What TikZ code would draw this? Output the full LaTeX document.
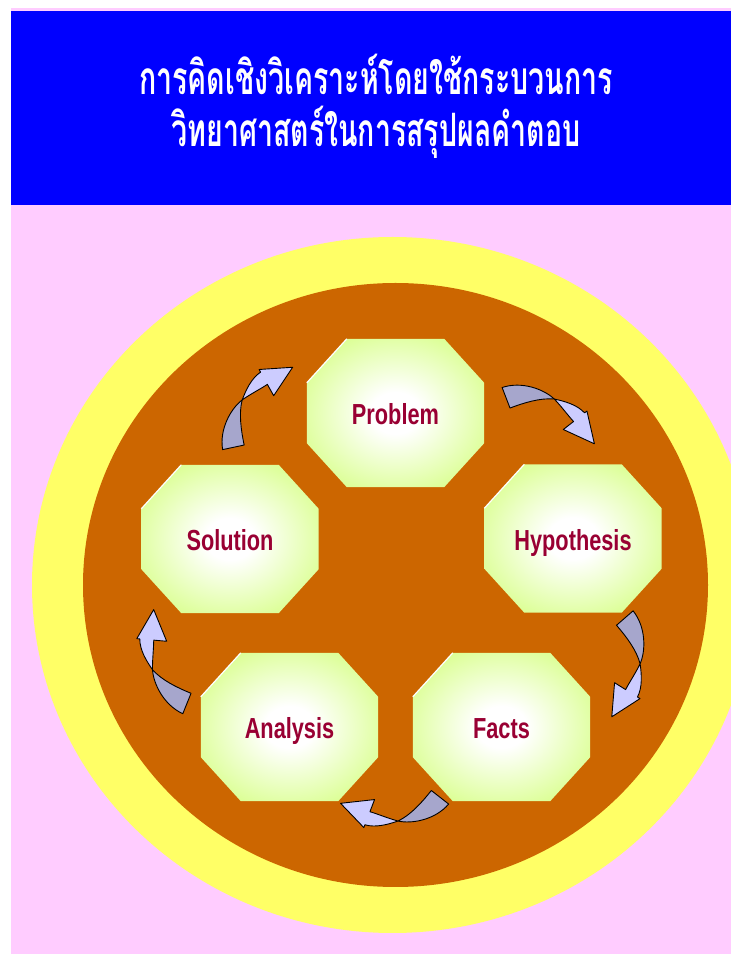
\documentclass[tikz,border=0pt]{standalone}
\usepackage{fontspec}
\usepackage{xcolor}
\usepackage{tikz}
\usetikzlibrary{calc, backgrounds, positioning}
\newfontfamily\thaifont[Script=Thai, FakeStretch=0.62]{Loma}
\newfontfamily\labelfont[FakeStretch=0.75]{Liberation Sans}
\definecolor{pagepink}{HTML}{FFCCFF}
\definecolor{titleblue}{HTML}{0000FF}
\definecolor{ringyellow}{HTML}{FFFF66}
\definecolor{discbrown}{HTML}{CC6600}
\definecolor{octgreen}{HTML}{CCFF66}
\definecolor{labelred}{HTML}{990033}
\definecolor{arrowlight}{HTML}{CCCCFF}
\definecolor{arrowdark}{HTML}{A6A6CC}
\pgfdeclareradialshading{octglow}{\pgfpoint{0bp}{0bp}}{color(0bp)=(white); color(7bp)=(white); color(38bp)=(octgreen); color(50bp)=(octgreen)}
\tikzset{
    octnode/.style = {draw=none, rectangle, minimum width=177pt, minimum height=148pt, inner sep=0em, 
      node distance=0em, text height=26pt, text depth=2pt, text=labelred, 
      font=\labelfont\bfseries\fontsize{29}{32}\selectfont},
    titlenode/.style = {draw=none, rectangle, anchor=base, inner sep=0em, node distance=0em, 
      text=white, font=\thaifont\bfseries\fontsize{46}{52}\selectfont},
    octfill/.style = {shading=octglow},
    bandback/.style = {fill=arrowdark, draw=black, line width=0.9pt, line join=round},
    bandfront/.style = {fill=arrowlight, draw=black, line width=0.9pt, line join=round},
    turnarrow/.pic = {
      \begin{scope}[shift={(0,-40.5)}]
        \filldraw[bandback] (140:74) .. controls (124:76) and (106:69) .. (95:63) 
          .. controls (108:60) and (124:54) .. (140:52) -- cycle;
        \filldraw[bandfront] (95:63) .. controls (86:66) and (76:71) .. (67:71) -- (67:74) -- (40:67) 
          -- (67:44) -- (67:57) .. controls (76:57) and (86:60) .. (95:63) -- cycle;
      \end{scope}
    }
}

\begin{document}
\begin{tikzpicture}[x=1pt, y=1pt]
    \useasboundingbox (0,0) rectangle (731,954);
    \coordinate (hub) at (395.5,369);

    \node [titlenode, name=titleA] at (376,859) {การคิดเชิงวิเคราะห์โดยใช้กระบวนการ};
    \node [titlenode, name=titleB, below of = titleA, yshift=-57] {วิทยาศาสตร์ในการสรุปผลคำตอบ};

    \node [octnode, name=prob] at (395.5,541) {Problem};
    \node [octnode, name=hyp, right of = prob, xshift=177.5, yshift=-125.5] {Hypothesis};
    \node [octnode, name=sol, left of = prob, xshift=-165.5, yshift=-126] {Solution};
    \node [octnode, name=anal, below of = sol, xshift=59.5, yshift=-188] {Analysis};
    \node [octnode, name=fact, right of = anal, xshift=212] {Facts};

    \begin{pgfonlayer}{background}
        \fill[pagepink] (11,0) rectangle (731,946);
        \fill[titleblue] (11,749) rectangle (731,943);
        \begin{scope}
            \clip (11,0) rectangle (731,946);
            \fill[ringyellow] (392.5,369) ellipse [x radius=360.5, y radius=348];
        \end{scope}
        \fill[discbrown] (hub) ellipse [x radius=312.5, y radius=302];
        \foreach \n in {prob, hyp, sol, anal, fact} {
            \shade[octfill] ($(\n.north west)+(40,0)$) -- ($(\n.north east)+(-40,0)$) -- ($(\n.north east)+(0,-44)$) 
              -- ($(\n.south east)+(0,44)$) -- ($(\n.south east)+(-40,0)$) -- ($(\n.south west)+(40,0)$) 
              -- ($(\n.south west)+(0,44)$) -- ($(\n.north west)+(0,-44)$) -- cycle;
            \draw[white, line width=1.2pt] ($(\n.north west)+(0,-44)$) -- ($(\n.north west)+(40,0)$);
        }
    \end{pgfonlayer}

    \foreach \ang/\rad/\rot in {47/224/-29, -20/236/-99, -91/214/-178, -162/235/108, 127/220/52}
        \pic [rotate=\rot] at ($(hub)+(\ang:\rad)$) {turnarrow};
\end{tikzpicture}
\end{document}
